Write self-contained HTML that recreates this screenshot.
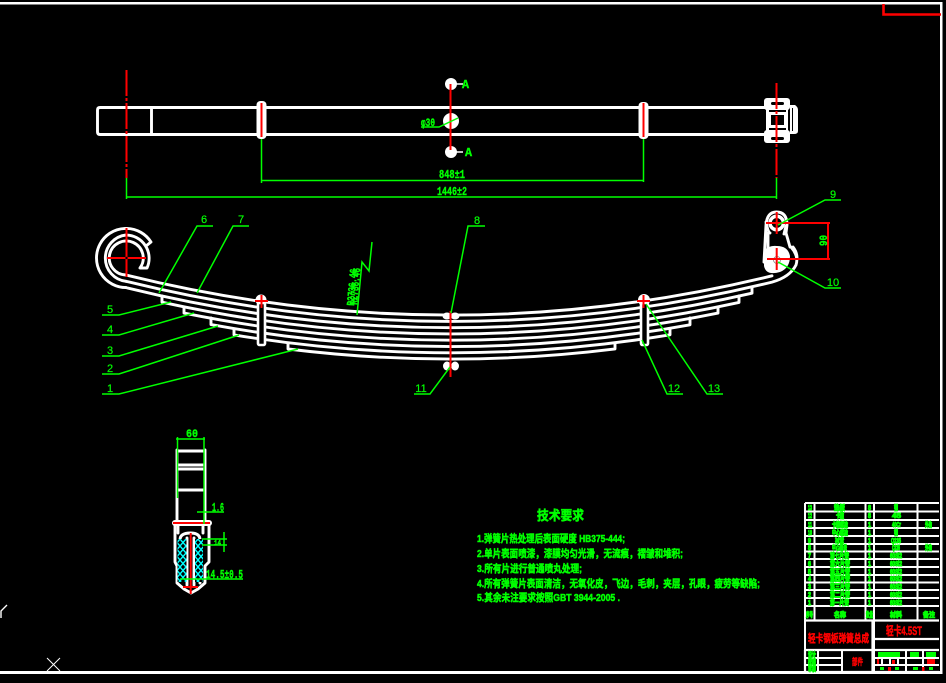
<!DOCTYPE html>
<html><head><meta charset="utf-8"><style>
html,body{margin:0;padding:0;background:#000;width:946px;height:683px;overflow:hidden}
svg{display:block}
text{font-family:"Liberation Mono","Noto Sans CJK SC",monospace;fill:#0f0;font-weight:bold;stroke:#0f0;stroke-width:.4}
.g{stroke:#0f0;stroke-width:1.5;fill:none}
.w{stroke:#fff;stroke-width:2.9;fill:none;stroke-linejoin:round;stroke-linecap:round}
.r{stroke:#f00;stroke-width:2;fill:none}
.d{stroke-dasharray:26 2 3 2}
.n{font-size:11px;font-weight:normal;font-family:"Liberation Sans",sans-serif;text-anchor:middle;stroke-width:.2}
.c{font-family:"Liberation Sans","Noto Sans CJK SC",sans-serif;stroke:#0f0;stroke-width:.55}
.s{font-family:"Liberation Sans","Noto Sans CJK SC",sans-serif;font-size:7px;stroke:#0f0;stroke-width:1}
.x{font-family:"Liberation Sans","Noto Sans CJK SC",sans-serif;fill:#f00;stroke:#f00;stroke-width:.5}
</style></head><body>
<svg width="946" height="683" viewBox="0 0 946 683" xmlns="http://www.w3.org/2000/svg">
<defs><pattern id="h" width="6" height="7" patternUnits="userSpaceOnUse"><rect width="6" height="7" fill="#000"/><path d="M0,0L6,7M6,0L0,7" stroke="#0ff" stroke-width="1.4"/></pattern></defs>
<rect width="946" height="683" fill="#000"/>
<!-- frame -->
<rect x="0" y="2" width="942" height="2.5" fill="#fff"/>
<rect x="940" y="2" width="2.5" height="672" fill="#fff"/>
<rect x="0" y="671" width="942" height="3" fill="#fff"/>
<path d="M883.5,4V14.5H941" stroke="#f00" stroke-width="2.6" fill="none"/>
<path d="M7,605L1,611V618" stroke="#fff" fill="none" stroke-width="1.4"/>
<path d="M47,658L60,671M60,658L47,671" stroke="#fff" stroke-width="1"/>

<!-- top view -->
<path class="w" d="M766,107.5H100Q97.5,107.5 97.5,110V132Q97.5,134.5 100,134.5H766M151.5,107.5V134.5"/>
<rect x="256.5" y="101" width="10" height="38" rx="4" fill="#fff"/>
<rect x="638.5" y="102" width="10" height="37" rx="4" fill="#fff"/>
<circle cx="451" cy="84" r="6" fill="#fff"/><circle cx="451" cy="152" r="6" fill="#fff"/><circle cx="451" cy="121" r="8" fill="#fff"/>
<path d="M456,84H463M456,152H463" stroke="#fff" stroke-width="1.4"/>
<path fill="#fff" d="M790,105H795Q798,107 798,110V131Q798,134 794,134H790Z"/>
<rect x="792" y="108" width="1" height="23" fill="#000"/>
<rect x="764" y="98" width="26" height="12" rx="3" fill="#fff"/>
<rect x="764" y="130" width="26" height="13" rx="3" fill="#fff"/>
<rect x="766" y="108" width="22" height="24" fill="#fff"/>
<rect x="771" y="102" width="13" height="3" rx="1.5" fill="#000"/>
<rect x="771" y="137" width="13" height="3" rx="1.5" fill="#000"/>
<rect x="771" y="115" width="13" height="10" fill="#000"/>
<rect x="769" y="110" width="17" height="2" fill="#000"/>
<rect x="769" y="128" width="17" height="2" fill="#000"/>
<path class="r d" d="M126.5,70V178M776.5,83V178"/>
<path class="r" d="M261.5,103V137M643.5,103V137M450.5,84V150"/>

<!-- top dims -->
<path class="g" d="M126.5,178V199M126.5,197H776.5M776.5,178V199M261.5,139V183M261.5,180.5H643.5M643.5,139V182M421,127H439L458,118"/>
<text x="421" y="126" font-size="11" textLength="14" lengthAdjust="spacingAndGlyphs">φ30</text>
<text x="439" y="178" font-size="12" textLength="26" lengthAdjust="spacingAndGlyphs">848±1</text>
<text x="437" y="195" font-size="12" textLength="30" lengthAdjust="spacingAndGlyphs">1446±2</text>
<text x="462" y="88" font-size="12" textLength="7" lengthAdjust="spacingAndGlyphs">A</text>
<text x="465" y="156" font-size="12" textLength="7" lengthAdjust="spacingAndGlyphs">A</text>

<!-- spring leaves -->
<g class="w">
<path d="M126,275A17,17 0 1 1 140,268L147,268A23.3,23.3 0 0 0 126,235A23.3,23.3 0 0 0 126,281.3"/>
<path d="M126,287.6A29.6,29.6 0 1 1 151,242L146,246"/>
<path d="M126,275Q449,354.8 772,275.8"/>
<path d="M126,281.3Q449,361.1 772,282.1Q790,277 796,265Q799,256 791,247"/>
<path d="M126,287.6Q439,364.9 752,293.2V287"/>
<path d="M162,296V302.2Q450.5,365.6 739,302.4V296"/>
<path d="M184,307V313.1Q451,367.3 718,313.1V307"/>
<path d="M211,318V324.6Q450.5,368.4 690,324.8V318"/>
<path d="M234,329V334.9Q452,370.8 670,334.8V329"/>
<path d="M288,343V349Q451.5,369.2 615,348.9V343"/>
</g>
<!-- clips -->
<circle cx="261" cy="300" r="5.5" fill="#fff"/>
<rect x="258" y="303" width="7" height="42" rx="1.5" fill="#000" stroke="#fff" stroke-width="2.6"/>
<circle cx="644" cy="300" r="6" fill="#fff"/>
<rect x="641" y="303" width="7" height="42" rx="1.5" fill="#000" stroke="#fff" stroke-width="2.6"/>
<path d="M255,301H268M261.5,295V308M637,301H650M643.5,295V308" class="r"/>
<ellipse cx="447" cy="316" rx="4.5" ry="3.5" fill="#fff"/><ellipse cx="455" cy="316" rx="4.5" ry="3.5" fill="#fff"/>
<ellipse cx="447" cy="366" rx="4" ry="4.5" fill="#fff"/><ellipse cx="455" cy="366" rx="4" ry="4.5" fill="#fff"/>
<path d="M450.5,311V377" class="r"/>
<path class="r" d="M107,258H146M126.5,228V277"/>
<circle cx="126.5" cy="258" r="1.2" fill="#000"/>

<!-- bracket -->
<path class="w" d="M764,262L766,225Q767,212 776.5,212Q787,212 787,225L786,233L790,247M768,233V248M793,247Q797,252 797,258"/>
<path d="M766,222Q768,232 770,233M786,226L784,234" class="w"/>
<path fill="#fff" d="M764,250Q770,245 777,246Q788,246 790,256Q790,268 780,272Q766,276 764,266Z"/>
<circle cx="776.7" cy="223" r="8.5" fill="#fff"/><circle cx="776.7" cy="223" r="5" fill="#000"/>
<circle cx="777" cy="260" r="3.5" fill="none" stroke="#888" stroke-width=".8"/>
<path class="r" d="M766,223H830M767,259H830M776.7,212V234M776.7,248V270"/>
<path d="M828,223V259" stroke="#f00" stroke-width="2"/>
<text transform="translate(827,246) rotate(-90)" font-size="11" textLength="11" lengthAdjust="spacingAndGlyphs">90</text>

<!-- leaders -->
<path class="g" d="M159,293L197,226H213M197,293L233,226H249M102,315H119L171,302M102,335H119L194,313M102,356H119L218,326M102,374H119L239,335M102,394H119L298,349M357,315L362,262L369,271L372,242M451,313L468,226H485M450,367L430,394H414M778,225L825,200H841M778,262L825,288H841M642,340L667,394H683M646,304L707,394H723"/>
<text class="n" x="204" y="223">6</text>
<text class="n" x="241" y="223">7</text>
<text class="n" x="110" y="313">5</text>
<text class="n" x="110" y="333">4</text>
<text class="n" x="110" y="354">3</text>
<text class="n" x="110" y="372">2</text>
<text class="n" x="110" y="392">1</text>
<text class="n" x="477" y="224">8</text>
<text class="n" x="421" y="392">11</text>
<text class="n" x="833" y="198">9</text>
<text class="n" x="833" y="286">10</text>
<text class="n" x="674" y="392">12</text>
<text class="n" x="714" y="392">13</text>
<text transform="translate(354,306) rotate(-85)" font-size="11" textLength="37" lengthAdjust="spacingAndGlyphs">R2736.46</text>
<text transform="translate(357,305) rotate(-85)" font-size="11" textLength="37" lengthAdjust="spacingAndGlyphs">R2736.46</text>

<!-- section view -->
<path d="M177,451H205M177,465H205M177,469H205M177,490H205" stroke="#fff" stroke-width="3"/>
<path d="M177,450V520M205,450V520M178,526V533M203,526V533" class="w"/>
<rect x="172" y="520" width="40" height="6" rx="3" fill="#fff"/>
<path d="M175,526V562L177,566V583L184,589L191,593L198,589L205,583V566L209,562V526" class="w"/>
<path d="M180,540Q180,533 190.5,533Q200,533 200,540V583" class="w"/>
<path d="M187,538V585M194,538V585" class="w"/>
<rect x="177.5" y="539" width="9" height="43" fill="url(#h)"/>
<rect x="195" y="539" width="8" height="43" fill="url(#h)"/>
<path class="r" d="M173,523H210M190.7,533V594M183,587H198"/>
<path class="g" d="M177.5,437V498M204,437V524M176,439H205M197,512H224M202,539H227M202,545H227M224,532V552M180,579H243"/>
<text x="186" y="437" font-size="11" textLength="12" lengthAdjust="spacingAndGlyphs">60</text>
<text x="212" y="511" font-size="12" textLength="12" lengthAdjust="spacingAndGlyphs">1.6</text>
<text x="214" y="545" font-size="7" textLength="7" lengthAdjust="spacingAndGlyphs">14</text>
<text x="206" y="578" font-size="12" textLength="37" lengthAdjust="spacingAndGlyphs">14.5±0.5</text>

<!-- notes -->
<text class="c" x="537" y="520" font-size="13" textLength="47" lengthAdjust="spacingAndGlyphs">技术要求</text>
<text class="c" x="477" y="542" font-size="10.5" textLength="148" lengthAdjust="spacingAndGlyphs">1.弹簧片热处理后表面硬度 HB375-444;</text>
<text class="c" x="477" y="557" font-size="10.5" textLength="206" lengthAdjust="spacingAndGlyphs">2.单片表面喷漆，漆膜均匀光滑，无流痕，褶皱和堆积;</text>
<text class="c" x="477" y="572" font-size="10.5" textLength="105" lengthAdjust="spacingAndGlyphs">3.所有片进行普通喷丸处理;</text>
<text class="c" x="477" y="587" font-size="10.5" textLength="283" lengthAdjust="spacingAndGlyphs">4.所有弹簧片表面清洁，无氧化皮，飞边，毛刺，夹层，孔眼，疲劳等缺陷;</text>
<text class="c" x="477" y="601" font-size="10.5" textLength="143" lengthAdjust="spacingAndGlyphs">5.其余未注要求按照GBT 3944-2005 .</text>

<!-- title block -->
<g stroke="#fff" stroke-width="2" fill="none">
<path d="M805,503H939M805,511.5H939M805,520H939M805,528H939M805,536H939M805,544H939M805,551.5H939M805,559H939M805,567H939M805,575H939M805,582.5H939M805,590H939M805,598H939M805,606H939"/>
<path d="M805,503V672M814.5,503V620M865.5,503V620M874,503V672M917.5,503V620"/>
<path d="M805,620.5H939M805,650H939M805,672H939M874,639H939M805,650V672M872.5,620V672" stroke-width="2.2"/>
<path d="M818,650V672M842,650V672M805,658H842M805,665H842M874,658H906M874,665H906M906,650V672M923,650V672M906,658H939M906,665H939M882,658V665M890,658V665M898,658V665" stroke-width="2"/>
</g>
<g>
<text class="s" x="834" y="510" textLength="11" lengthAdjust="spacingAndGlyphs">垫板</text>
<text class="s" x="836" y="518" textLength="8" lengthAdjust="spacingAndGlyphs">卡箍</text>
<text class="s" x="832" y="527" textLength="16" lengthAdjust="spacingAndGlyphs">卡箍螺栓</text>
<text class="s" x="832" y="535" textLength="16" lengthAdjust="spacingAndGlyphs">中心螺栓</text>
<text class="s" x="835" y="543" textLength="9" lengthAdjust="spacingAndGlyphs">衬套</text>
<text class="s" x="832" y="550" textLength="15" lengthAdjust="spacingAndGlyphs">中心螺母</text>
<text class="s" x="830" y="558" textLength="19" lengthAdjust="spacingAndGlyphs">第七片簧</text>
<text class="s" x="830" y="566" textLength="20" lengthAdjust="spacingAndGlyphs">第六片簧</text>
<text class="s" x="830" y="574" textLength="20" lengthAdjust="spacingAndGlyphs">第五片簧</text>
<text class="s" x="830" y="581" textLength="20" lengthAdjust="spacingAndGlyphs">第四片簧</text>
<text class="s" x="830" y="589" textLength="20" lengthAdjust="spacingAndGlyphs">第三片簧</text>
<text class="s" x="830" y="597" textLength="20" lengthAdjust="spacingAndGlyphs">第二片簧</text>
<text class="s" x="830" y="605" textLength="19" lengthAdjust="spacingAndGlyphs">第一片簧</text>
<text class="s" x="894" y="510" textLength="4" lengthAdjust="spacingAndGlyphs">钢</text>
<text class="s" x="892" y="518" textLength="9" lengthAdjust="spacingAndGlyphs">45</text>
<text class="s" x="892" y="527" textLength="9" lengthAdjust="spacingAndGlyphs">40Cr</text>
<text class="s" x="894" y="535" textLength="4" lengthAdjust="spacingAndGlyphs">钢</text>
<text class="s" x="891" y="543" textLength="10" lengthAdjust="spacingAndGlyphs">Q235</text>
<text class="s" x="892" y="550" textLength="8" lengthAdjust="spacingAndGlyphs">Q235</text>
<text class="s" x="890" y="558" textLength="12" lengthAdjust="spacingAndGlyphs">60Si2</text>
<text class="s" x="890" y="566" textLength="12" lengthAdjust="spacingAndGlyphs">60Si2</text>
<text class="s" x="890" y="574" textLength="12" lengthAdjust="spacingAndGlyphs">60Si2</text>
<text class="s" x="890" y="581" textLength="12" lengthAdjust="spacingAndGlyphs">60Si2</text>
<text class="s" x="890" y="589" textLength="12" lengthAdjust="spacingAndGlyphs">60Si2</text>
<text class="s" x="890" y="597" textLength="12" lengthAdjust="spacingAndGlyphs">60Si2</text>
<text class="s" x="890" y="605" textLength="12" lengthAdjust="spacingAndGlyphs">60Si2</text>
<text class="s" x="925" y="527" textLength="7" lengthAdjust="spacingAndGlyphs">外购</text>
<text class="s" x="925" y="550" textLength="7" lengthAdjust="spacingAndGlyphs">外购</text>
<text class="s" x="868" y="510" textLength="3" lengthAdjust="spacingAndGlyphs">8</text>
<text class="s" x="868" y="518" textLength="3" lengthAdjust="spacingAndGlyphs">8</text>
<text class="s" x="868" y="527" textLength="3" lengthAdjust="spacingAndGlyphs">1</text>
<text class="s" x="868" y="535" textLength="3" lengthAdjust="spacingAndGlyphs">1</text>
<text class="s" x="868" y="543" textLength="3" lengthAdjust="spacingAndGlyphs">1</text>
<text class="s" x="868" y="550" textLength="3" lengthAdjust="spacingAndGlyphs">1</text>
<text class="s" x="868" y="558" textLength="3" lengthAdjust="spacingAndGlyphs">1</text>
<text class="s" x="868" y="566" textLength="3" lengthAdjust="spacingAndGlyphs">1</text>
<text class="s" x="868" y="574" textLength="3" lengthAdjust="spacingAndGlyphs">1</text>
<text class="s" x="868" y="581" textLength="3" lengthAdjust="spacingAndGlyphs">1</text>
<text class="s" x="868" y="589" textLength="3" lengthAdjust="spacingAndGlyphs">1</text>
<text class="s" x="868" y="597" textLength="3" lengthAdjust="spacingAndGlyphs">1</text>
<text class="s" x="868" y="605" textLength="3" lengthAdjust="spacingAndGlyphs">1</text>
<text class="s" x="808" y="510" textLength="4" lengthAdjust="spacingAndGlyphs">13</text>
<text class="s" x="808" y="518" textLength="4" lengthAdjust="spacingAndGlyphs">12</text>
<text class="s" x="808" y="527" textLength="4" lengthAdjust="spacingAndGlyphs">11</text>
<text class="s" x="808" y="535" textLength="4" lengthAdjust="spacingAndGlyphs">10</text>
<text class="s" x="808" y="543" textLength="3" lengthAdjust="spacingAndGlyphs">9</text>
<text class="s" x="808" y="550" textLength="3" lengthAdjust="spacingAndGlyphs">8</text>
<text class="s" x="808" y="558" textLength="3" lengthAdjust="spacingAndGlyphs">7</text>
<text class="s" x="808" y="566" textLength="3" lengthAdjust="spacingAndGlyphs">6</text>
<text class="s" x="808" y="574" textLength="3" lengthAdjust="spacingAndGlyphs">5</text>
<text class="s" x="808" y="581" textLength="3" lengthAdjust="spacingAndGlyphs">4</text>
<text class="s" x="808" y="589" textLength="3" lengthAdjust="spacingAndGlyphs">3</text>
<text class="s" x="808" y="597" textLength="3" lengthAdjust="spacingAndGlyphs">2</text>
<text class="s" x="808" y="605" textLength="3" lengthAdjust="spacingAndGlyphs">1</text>
<text class="s" x="806" y="617" textLength="7" lengthAdjust="spacingAndGlyphs">序号</text>
<text class="s" x="834" y="617" textLength="12" lengthAdjust="spacingAndGlyphs">名称</text>
<text class="s" x="866" y="617" textLength="7" lengthAdjust="spacingAndGlyphs">数量</text>
<text class="s" x="890" y="617" textLength="12" lengthAdjust="spacingAndGlyphs">材料</text>
<text class="s" x="923" y="617" textLength="12" lengthAdjust="spacingAndGlyphs">备注</text>
</g>
<text class="x" x="808" y="642" font-size="11" textLength="61" lengthAdjust="spacingAndGlyphs">轻卡钢板弹簧总成</text>
<text class="x" x="886" y="635" font-size="12" textLength="36" lengthAdjust="spacingAndGlyphs">轻卡4.5ST</text>
<text class="x" x="852" y="665" font-size="9" textLength="11" lengthAdjust="spacingAndGlyphs">部件</text>
<g fill="#0f0">
<text class="s" x="808" y="657" textLength="8" lengthAdjust="spacingAndGlyphs">设计</text>
<text class="s" x="808" y="664" textLength="8" lengthAdjust="spacingAndGlyphs">校核</text>
<text class="s" x="808" y="671" textLength="8" lengthAdjust="spacingAndGlyphs">审核</text>
<rect x="878" y="652" width="22" height="5"/>
<rect x="910" y="652" width="9" height="5"/>
<rect x="926" y="652" width="10" height="5"/>
<rect x="880" y="667" width="4" height="3"/>
<rect x="895" y="667" width="4" height="3"/>
<rect x="913" y="667" width="5" height="3"/>
<rect x="929" y="667" width="4" height="3"/>
</g>
<g fill="#f00">
<rect x="877" y="659" width="2" height="5"/>
<rect x="892" y="660" width="3" height="4"/>
<rect x="927" y="659" width="8" height="5"/>
<rect x="888" y="667" width="3" height="4"/>
<rect x="922" y="667" width="2.5" height="4"/>
</g>
</svg>
</body></html>
